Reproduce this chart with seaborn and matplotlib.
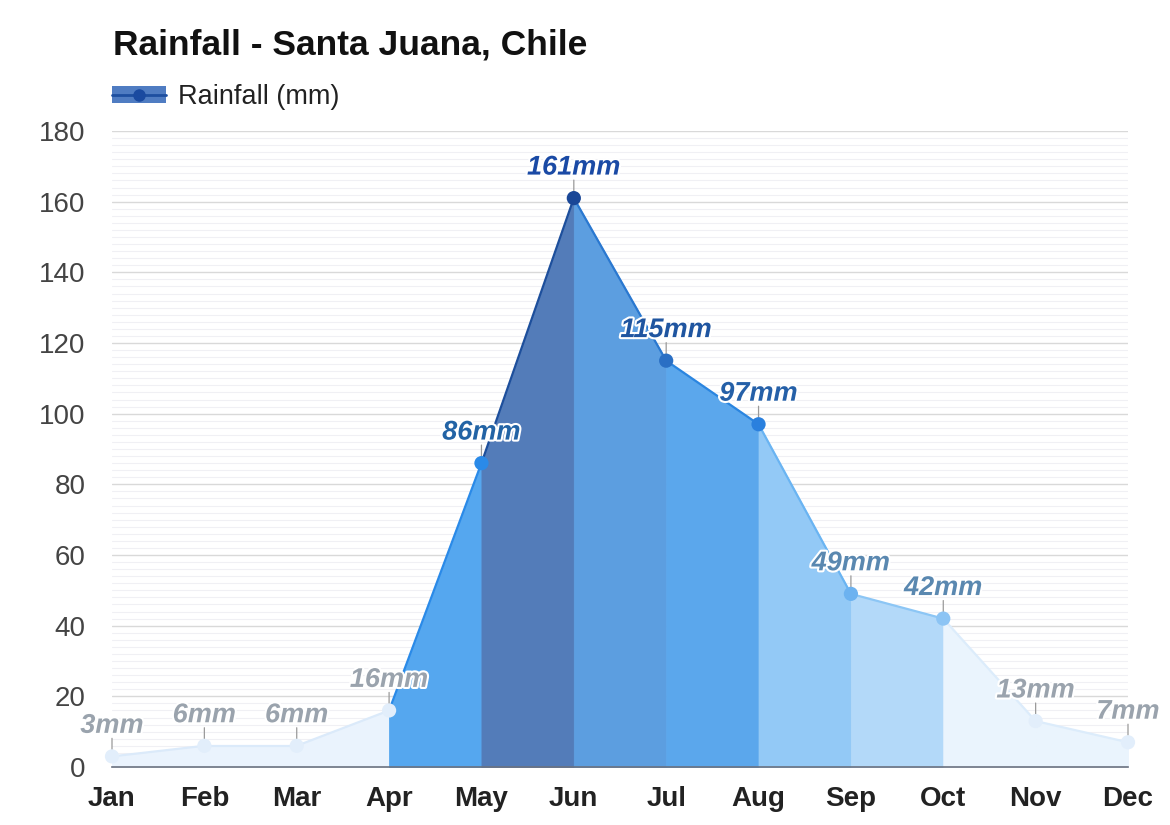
import numpy as np
import pandas as pd
import seaborn as sns
import matplotlib.pyplot as plt
from matplotlib.patches import Patch
from matplotlib.lines import Line2D
import matplotlib.patheffects as pe

# ---- data ----
months = ["Jan", "Feb", "Mar", "Apr", "May", "Jun", "Jul", "Aug", "Sep", "Oct", "Nov", "Dec"]
rain = [3, 6, 6, 16, 86, 161, 115, 97, 49, 42, 13, 7]
value_labels = [f"{v}mm" for v in rain]
y_ticks = [0, 20, 40, 60, 80, 100, 120, 140, 160, 180]
title = "Rainfall - Santa Juana, Chile"
legend_label = "Rainfall (mm)"

# ---- styles (per month) ----
fill_colors = ["#eaf3fd", "#eaf3fd", "#eaf3fd", "#eaf3fd", "#55a7ef", "#537cb9",
               "#5c9ee0", "#5ba7ec", "#93c9f6", "#b3d9f9", "#eaf4fd", "#eaf4fd"]
line_colors = ["#dbeafa", "#dbeafa", "#dbeafa", "#dbeafa", "#2a8ae8", "#1d4f9c",
               "#2a78d0", "#2a85e0", "#6ab4f2", "#8cc6f5", "#dcecfb", "#dcecfb"]
marker_colors = ["#e2eefb", "#e2eefb", "#e2eefb", "#e2eefb", "#2a8ae8", "#1a4797",
                 "#2a6fc4", "#2a80de", "#6cb2f0", "#8cc4f4", "#e2eefb", "#e2eefb"]
label_colors = ["#9aa3ad", "#9aa3ad", "#9aa3ad", "#9aa3ad", "#2263a5", "#1a4aa5",
                "#1f55a0", "#2560a8", "#5a88b0", "#5a88b0", "#9aa3ad", "#9aa3ad"]

df = pd.DataFrame({"month": months, "rain": rain, "x": np.arange(len(months))})

sns.set_theme(style="white")
plt.rcParams["font.family"] = ["Liberation Sans", "DejaVu Sans"]

fig = plt.figure(figsize=(11.7, 8.25), dpi=100)
ax = fig.add_axes([112 / 1170, 1 - 767 / 825, (1128 - 112) / 1170, (767 - 131) / 825])

# segment fills and lines, colored by the right endpoint month
for i in range(len(df) - 1):
    seg = df.iloc[i:i + 2]
    ax.fill_between(seg["x"], seg["rain"], 0, facecolor=fill_colors[i + 1],
                    edgecolor=fill_colors[i + 1], lw=0.6, zorder=2)
    sns.lineplot(data=seg, x="x", y="rain", color=line_colors[i + 1], lw=1.6,
                 ax=ax, zorder=3, legend=False)

sc = sns.scatterplot(data=df, x="x", y="rain", hue="month", palette=marker_colors,
                     s=105, edgecolor="none", legend=False, ax=ax, zorder=5)
for coll in ax.collections[-1:]:
    coll.set_clip_on(False)

# value labels with small leader ticks
for xi, v, lab, c in zip(df["x"], df["rain"], value_labels, label_colors):
    ax.annotate("", xy=(xi, v), xytext=(0, 13), textcoords="offset points",
                xycoords="data",
                arrowprops=dict(arrowstyle="-", color="#9a9a9a", lw=0.9,
                                shrinkA=0, shrinkB=5), zorder=4)
    ax.annotate(lab, xy=(xi, v), xytext=(0, 22), textcoords="offset points",
                ha="center", va="center", fontsize=19.5, fontweight="bold",
                fontstyle="italic", color=c, zorder=6, annotation_clip=False,
                path_effects=[pe.withStroke(linewidth=3, foreground="white")])

ax.set_xlim(0, len(months) - 1)
ax.set_ylim(0, 180)
ax.set_xticks(df["x"])
ax.set_xticklabels(months, fontsize=20, fontweight="bold", color="#222222")
ax.set_yticks(y_ticks)
ax.set_yticklabels([str(t) for t in y_ticks], fontsize=20, color="#444444")
ax.set_yticks(np.arange(0, 181, 2), minor=True)
ax.tick_params(axis="x", length=0, pad=14)
ax.tick_params(axis="y", which="both", length=0, pad=19)
ax.grid(axis="y", which="major", color="#d9d9d9", lw=1, zorder=0)
ax.grid(axis="y", which="minor", color="#f0f0f4", lw=0.8, zorder=0)
ax.set_axisbelow(True)
for s in ["top", "right", "left"]:
    ax.spines[s].set_visible(False)
ax.spines["bottom"].set_color("#6b7280")
ax.spines["bottom"].set_linewidth(1.2)
ax.spines["bottom"].set_zorder(7)
ax.set_xlabel("")
ax.set_ylabel("")

fig.text(113 / 1170, 1 - 45 / 825, title, fontsize=25.5, fontweight="bold",
         color="#111111", ha="left", va="center")

handle = (Patch(facecolor="#4f7cc2", edgecolor="none"),
          Line2D([0], [0], color="#1d4fa0", lw=2, marker="o", markersize=8,
                 markerfacecolor="#1a4aa0", markeredgecolor="#1a4aa0"))
fig.legend([handle], [legend_label], loc="center left",
           bbox_to_anchor=(112 / 1170, 1 - 97 / 825), frameon=False,
           borderpad=0, borderaxespad=0,
           fontsize=19.5, handlelength=2.0, handleheight=0.6, handletextpad=0.45,
           labelcolor="#222222")

fig.savefig("out.png", dpi=100, facecolor="white")
